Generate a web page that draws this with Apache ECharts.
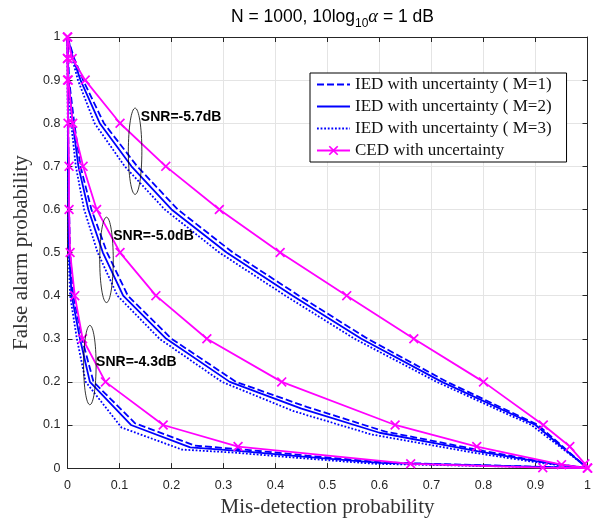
<!DOCTYPE html>
<html><head><meta charset="utf-8">
<script src="https://cdn.jsdelivr.net/npm/echarts@6/dist/echarts.min.js"></script>
<style>html,body{margin:0;padding:0;background:#fff}#c{width:600px;height:523px}</style>
</head><body><div id="c"></div>
<script>
// ---------- data ----------
const xTickLabels = ['0','0.1','0.2','0.3','0.4','0.5','0.6','0.7','0.8','0.9','1'];
const yTickLabels = ['0','0.1','0.2','0.3','0.4','0.5','0.6','0.7','0.8','0.9','1'];
const legendNames = ['IED with uncertainty ( M=1)','IED with uncertainty ( M=2)','IED with uncertainty ( M=3)','CED with uncertainty'];
const snrLabels = ['SNR=-5.7dB','SNR=-5.0dB','SNR=-4.3dB'];

// SNR = -5.7 dB  ([Pm, Pf])
const ied1_57 = [[0,1],[0.013,0.95],[0.03,0.9],[0.07,0.8],[0.134,0.7],[0.212,0.6],[0.318,0.5],[0.445,0.4],[0.577,0.3],[0.73,0.2],[0.905,0.1],[0.99,0.01],[1,0]];
const ied2_57 = [[0,1],[0.011,0.95],[0.025,0.9],[0.062,0.8],[0.123,0.7],[0.2,0.6],[0.306,0.5],[0.433,0.4],[0.565,0.3],[0.72,0.2],[0.9,0.1],[0.99,0.01],[1,0]];
const ied3_57 = [[0,1],[0.009,0.95],[0.02,0.9],[0.052,0.8],[0.11,0.7],[0.187,0.6],[0.292,0.5],[0.419,0.4],[0.552,0.3],[0.71,0.2],[0.892,0.1],[0.99,0.01],[1,0]];
const ced_57  = [[0,1],[0.009,0.95],[0.034,0.9],[0.101,0.8],[0.189,0.7],[0.292,0.6],[0.409,0.5],[0.537,0.4],[0.666,0.3],[0.8,0.2],[0.915,0.1],[0.966,0.05],[0.995,0.01],[1,0]];

// SNR = -5.0 dB
const ied1_50 = [[0,1],[0.003,0.9],[0.013,0.8],[0.025,0.7],[0.046,0.6],[0.076,0.5],[0.116,0.4],[0.2,0.3],[0.324,0.2],[0.46,0.142],[0.61,0.085],[0.8,0.04],[0.925,0.012],[1,0]];
const ied2_50 = [[0,1],[0.002,0.9],[0.01,0.8],[0.021,0.7],[0.04,0.6],[0.068,0.5],[0.107,0.4],[0.19,0.3],[0.312,0.2],[0.45,0.138],[0.6,0.082],[0.79,0.039],[0.92,0.012],[1,0]];
const ied3_50 = [[0,1],[0.001,0.9],[0.007,0.8],[0.016,0.7],[0.032,0.6],[0.058,0.5],[0.096,0.4],[0.177,0.3],[0.297,0.2],[0.435,0.132],[0.585,0.078],[0.78,0.036],[0.915,0.011],[1,0]];
const ced_50  = [[0,1],[0,0.95],[0.0015,0.9],[0.01,0.8],[0.03,0.7],[0.056,0.6],[0.101,0.5],[0.17,0.4],[0.268,0.3],[0.412,0.2],[0.63,0.1],[0.787,0.05],[0.95,0.008],[1,0]];

// SNR = -4.3 dB
const ied1_43 = [[0,1],[0.001,0.9],[0.0015,0.8],[0.002,0.7],[0.003,0.6],[0.005,0.5],[0.011,0.4],[0.028,0.3],[0.05,0.2],[0.13,0.104],[0.245,0.052],[0.34,0.043],[0.46,0.029],[0.61,0.013],[1,0]];
const ied2_43 = [[0,1],[0.0005,0.9],[0.001,0.8],[0.0015,0.7],[0.002,0.6],[0.003,0.5],[0.008,0.4],[0.024,0.3],[0.043,0.2],[0.122,0.1],[0.236,0.048],[0.328,0.04],[0.447,0.027],[0.6,0.012],[1,0]];
const ied3_43 = [[0,1],[0,0.9],[0.0005,0.8],[0.001,0.7],[0.0015,0.6],[0.002,0.5],[0.005,0.4],[0.018,0.3],[0.035,0.2],[0.104,0.094],[0.22,0.043],[0.32,0.036],[0.44,0.024],[0.59,0.01],[1,0]];
const ced_43  = [[0,1],[0,0.95],[0,0.9],[0.001,0.8],[0.003,0.7],[0.003,0.6],[0.005,0.5],[0.014,0.4],[0.029,0.3],[0.073,0.2],[0.184,0.1],[0.328,0.05],[0.66,0.01],[0.914,0.001],[1,0]];

// annotation ellipses: centre [Pm, Pf], radii in data units, label anchor
const annCenters = [[0.13,0.735],[0.075,0.483],[0.043,0.239]];
const annRadii   = [[0.013,0.1],[0.013,0.099],[0.012,0.092]];
const annText    = [[0.141,0.815],[0.088,0.538],[0.055,0.246]];

// ---------- chart ----------
const BLUE = '#0000ff', MAG = '#ff00ff';
const XSYM = 'path://M0,1.2L1.2,0L5,3.8L8.8,0L10,1.2L6.2,5L10,8.8L8.8,10L5,6.2L1.2,10L0,8.8L3.8,5Z';
const chart = echarts.init(document.getElementById('c'), null, {renderer:'canvas'});
const axisCol = '#262626';
function iedSeries(name, data, type){
  return {name, type:'line', data, symbol:'emptyCircle', showSymbol:false, z:2,
    lineStyle:{color:BLUE, width:1.8, type}, itemStyle:{color:BLUE}, animation:false};
}
function cedSeries(data){
  return {name:legendNames[3], type:'line', data, symbol:XSYM, symbolSize:10, z:3,
    lineStyle:{color:MAG, width:1.8}, itemStyle:{color:MAG}, animation:false};
}
const groups = [[ied1_57,ied2_57,ied3_57,ced_57],[ied1_50,ied2_50,ied3_50,ced_50],[ied1_43,ied2_43,ied3_43,ced_43]];
const series = [];
groups.forEach(g=>{
  series.push(iedSeries(legendNames[0], g[0], [7,3]));
  series.push(iedSeries(legendNames[1], g[1], 'solid'));
  series.push(iedSeries(legendNames[2], g[2], [1.8,1.8]));
  series.push(cedSeries(g[3]));
});
const fmtX = v => xTickLabels[Math.round(v*10)];
const fmtY = v => yTickLabels[Math.round(v*10)];
const tickFont = {fontFamily:'Liberation Sans', fontSize:12.5, color:axisCol};
const hidden = {opacity:0, borderWidth:0};
const option = {
  animation:false,
  backgroundColor:'#fff',
  title:{
    text:'{a|N = 1000, 10log}{s|10}{g|α}{a| = 1 dB}',
    left:327.5, top:0, textAlign:'center',
    textStyle:{fontWeight:'normal', rich:{
      a:{fontFamily:'Liberation Sans', fontWeight:'normal', fontSize:17.5, color:'#000', lineHeight:22},
      s:{fontFamily:'Liberation Sans', fontWeight:'normal', fontSize:12, color:'#000', padding:[13,0,0,0]},
      g:{fontFamily:'Liberation Serif', fontWeight:'normal', fontStyle:'italic', fontSize:18.5, color:'#000'}
    }}
  },
  grid:{left:67.5, right:12.5, top:37, bottom:53, containLabel:false},
  xAxis:[
    {type:'value', min:0, max:1, interval:0.1, position:'bottom',
      name:'Mis-detection probability', nameLocation:'middle', nameGap:28,
      nameTextStyle:{fontFamily:'Liberation Serif', fontSize:21, color:'#333'},
      axisLine:{show:true, onZero:false, lineStyle:{color:axisCol, width:1}},
      axisTick:{show:true, inside:true, length:5, lineStyle:{color:axisCol}},
      axisLabel:{...tickFont, margin:11, formatter:fmtX},
      splitLine:{show:true, lineStyle:{color:'#e4e4e4', width:1}}},
    {type:'value', min:0, max:1, interval:0.1, position:'top',
      axisLine:{show:true, onZero:false, lineStyle:{color:axisCol, width:1}},
      axisTick:{show:true, inside:true, length:5, lineStyle:{color:axisCol}},
      axisLabel:{show:false}, splitLine:{show:false}}
  ],
  yAxis:[
    {type:'value', min:0, max:1, interval:0.1, position:'left',
      name:'False alarm probability', nameLocation:'middle', nameGap:35,
      nameTextStyle:{fontFamily:'Liberation Serif', fontSize:21, color:'#333'},
      axisLine:{show:true, onZero:false, lineStyle:{color:axisCol, width:1}},
      axisTick:{show:true, inside:true, length:5, lineStyle:{color:axisCol}},
      axisLabel:{...tickFont, margin:7, formatter:fmtY},
      splitLine:{show:true, lineStyle:{color:'#e4e4e4', width:1}}},
    {type:'value', min:0, max:1, interval:0.1, position:'right',
      axisLine:{show:true, onZero:false, lineStyle:{color:axisCol, width:1}},
      axisTick:{show:true, inside:true, length:5, lineStyle:{color:axisCol}},
      axisLabel:{show:false}, splitLine:{show:false}}
  ],
  legend:{
    data:[{name:legendNames[0], itemStyle:hidden},{name:legendNames[1], itemStyle:hidden},
          {name:legendNames[2], itemStyle:hidden},{name:legendNames[3]}],
    orient:'vertical', left:310, top:73,
    itemWidth:33, itemHeight:12, itemGap:5, padding:[3,15,3,6],
    borderColor:'#000', borderWidth:1, backgroundColor:'#fff',
    textStyle:{fontFamily:'Liberation Serif', fontSize:17, lineHeight:16, color:'#111'},
    selectedMode:false
  },
  series
};
chart.setOption(option);

// annotations (ellipses + labels) placed from data coordinates
const gfx = [];
annCenters.forEach((c,i)=>{
  const p = chart.convertToPixel({xAxisIndex:0, yAxisIndex:0}, c);
  const q = chart.convertToPixel({xAxisIndex:0, yAxisIndex:0}, [c[0]+annRadii[i][0], c[1]+annRadii[i][1]]);
  gfx.push({type:'ellipse', shape:{cx:p[0], cy:p[1], rx:Math.abs(q[0]-p[0]), ry:Math.abs(q[1]-p[1])},
    style:{fill:'none', stroke:'#000', lineWidth:0.8}, z:10});
  const t = chart.convertToPixel({xAxisIndex:0, yAxisIndex:0}, annText[i]);
  gfx.push({type:'text', x:t[0], y:t[1], z:10,
    style:{text:snrLabels[i], fill:'#000', font:'bold 14px "Liberation Sans"', textAlign:'left', textVerticalAlign:'middle'}});
});
chart.setOption({graphic:gfx});
</script></body></html>
